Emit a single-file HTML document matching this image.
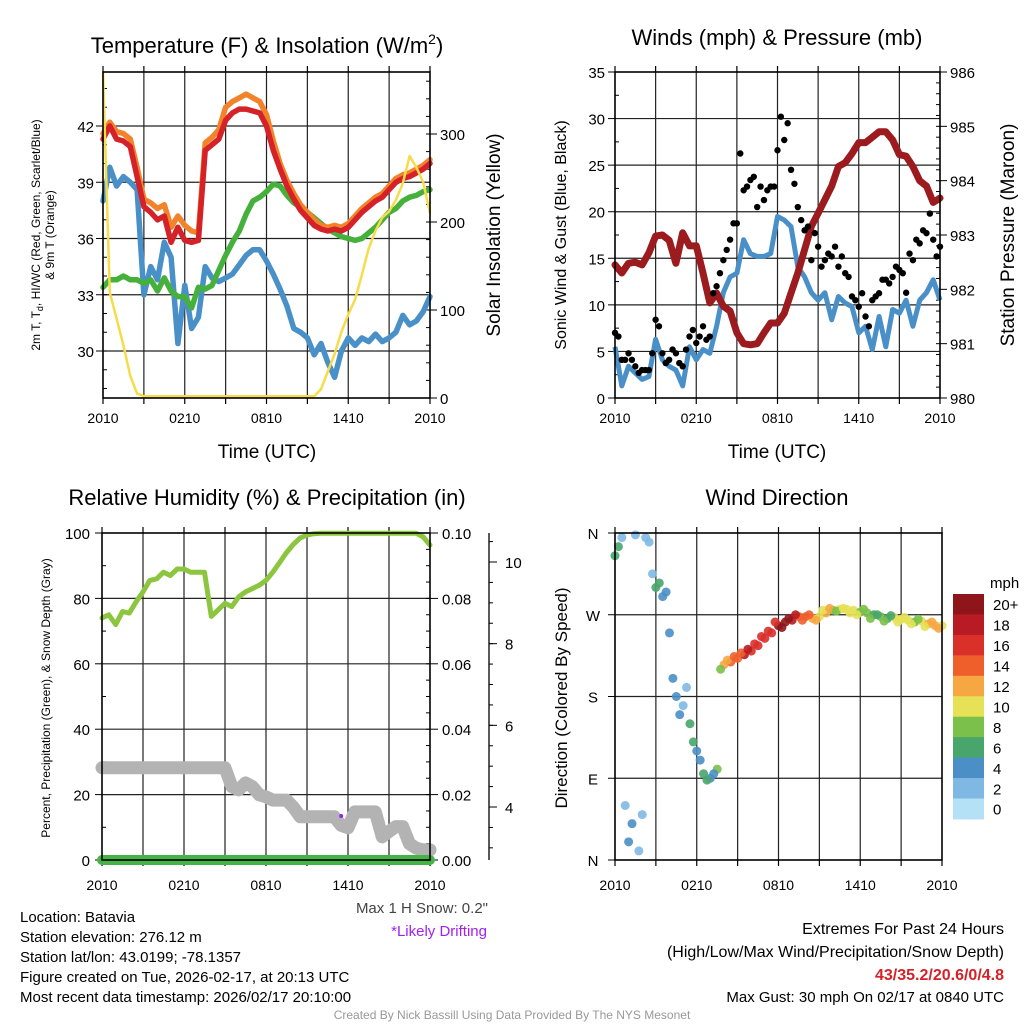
<!DOCTYPE html>
<html><head><meta charset="utf-8">
<style>
html,body{margin:0;padding:0;background:#fff;}
svg{display:block;font-family:"Liberation Sans",sans-serif;}
</style></head>
<body>
<svg id="chart" width="1024" height="1024" viewBox="0 0 1024 1024" xmlns="http://www.w3.org/2000/svg"></svg>
<script>
// ---------- data (0.5 h steps from 2010 UTC) ----------
const timeLabels = ["2010","0210","0810","1410","2010"];
const tempRed = [41.3,42.0,41.3,41.2,40.9,39.3,37.7,37.4,37.0,37.2,35.8,36.6,35.9,35.8,35.9,40.7,41.0,41.3,42.3,42.7,42.9,42.9,42.8,42.7,42.0,40.7,39.7,38.8,38.1,37.5,37.1,36.7,36.5,36.4,36.5,36.4,36.6,37.0,37.4,37.7,38.0,38.2,38.6,39.0,39.2,39.3,39.5,39.7,40.0];
const tempOrange = [41.6,42.2,41.7,41.6,41.3,39.8,38.1,37.9,37.6,37.8,36.6,37.2,36.7,36.4,36.3,41.1,41.4,41.8,43.0,43.3,43.5,43.7,43.5,43.3,42.6,41.2,40.0,39.1,38.4,37.8,37.4,37.0,36.7,36.6,36.7,36.6,36.8,37.2,37.6,37.9,38.2,38.4,38.8,39.2,39.4,39.5,39.7,39.9,40.2];
const dewGreen = [33.4,33.8,33.8,34.0,33.8,33.8,33.6,33.8,33.2,33.9,33.2,32.9,32.9,32.3,33.4,33.3,33.5,34.3,35.1,35.8,36.4,37.3,38.0,38.2,38.5,38.9,38.8,38.3,37.9,37.7,37.4,37.1,36.8,36.5,36.3,36.1,36.0,35.9,36.0,36.3,36.6,37.0,37.4,37.6,38.0,38.2,38.3,38.5,38.6];
const windChillBlue = [38.0,39.8,38.8,39.3,39.0,38.6,33.0,34.5,33.8,35.8,35.0,30.4,33.5,31.2,31.8,34.5,33.9,33.7,33.9,34.1,34.6,35.1,35.4,35.4,34.8,34.1,33.3,32.4,31.2,31.0,30.7,29.8,30.4,29.4,28.6,30.0,30.7,30.3,30.7,30.5,30.9,30.5,30.7,31.0,31.9,31.4,31.6,32.1,32.9];
const solar = [370,120,90,60,25,5,2,2,2,2,2,2,2,2,2,2,2,2,2,2,2,2,2,2,2,2,2,2,2,2,2,2,10,30,50,75,95,112,140,170,190,205,212,225,244,275,262,245,210];
const tempTicks = [30,33,36,39,42];
const solarTicks = [0,100,200,300];

const windSpeed = [5.5,1.3,3.4,2.7,2.0,2.3,6.3,4.1,3.4,3.0,1.3,5.5,4.1,5.2,4.8,7.7,11.3,13.0,13.4,17.0,15.5,15.2,15.2,15.5,19.5,19.1,18.4,14.1,13.0,11.3,10.5,11.3,8.4,10.9,10.2,9.8,7.0,7.7,5.2,8.75,5.5,9.5,9.1,10.5,7.7,10.5,11.3,12.7,10.5];
const gustA = [7.0,4.1,4.8,3.4,3.0,3.0,8.4,4.8,4.1,4.8,3.4,6.6,5.9,7.7,6.6,12.0,14.8,17.0,18.75,22.3,23.4,20.5,21.25,22.7,26.6,27.7,24.5,20.5,18.0,14.8,16.25,14.8,15.2,14.1,13.4,10.9,9.8,8.75,10.5,11.25,12.7,13.0,13.75,11.3,14.8,16.6,17.7,17.0,16.25];
const gustB = [6.6,4.1,4.1,2.7,3.0,4.8,7.7,3.75,5.2,3.75,5.2,7.3,6.6,6.25,11.25,13.4,15.9,18.75,26.25,22.7,23.75,22.7,22.3,22.7,30.2,29.5,23.0,19.1,18.4,17.7,14.1,15.5,16.25,15.2,13.0,10.5,11.25,7.7,10.9,12.7,12.3,14.1,13.4,15.5,17.0,18.0,19.8,15.2];
const pressure = [982.45,982.3,982.48,982.5,982.45,982.67,982.98,983.0,982.9,982.48,983.04,982.8,982.8,982.3,981.75,981.93,981.69,981.6,981.2,981.0,980.98,981.0,981.2,981.38,981.38,981.56,981.93,982.3,982.73,983.16,983.4,983.65,983.9,984.26,984.33,984.5,984.7,984.7,984.8,984.9,984.9,984.75,984.48,984.45,984.26,984.0,983.9,983.6,983.68];
const windTicks = [0,5,10,15,20,25,30,35];
const pressTicks = [980,981,982,983,984,985,986];

const rh = [74,75,72,76,75.5,79,82,85.5,86,88,87,89,89,88,88,88,74.5,76.5,78.5,77.5,80.5,82,83,84,85.5,88,91,94,96.5,98.5,99.4,99.8,99.9,99.9,99.9,99.9,99.9,99.9,99.9,99.9,99.9,99.9,99.9,99.9,99.9,99.9,99.9,98.8,96.3];
const precip = [0,0,0,0,0,0,0,0,0,0,0,0,0,0,0,0,0,0,0,0,0,0,0,0,0,0,0,0,0,0,0,0,0,0,0,0,0,0,0,0,0,0,0,0,0,0,0,0,0];
const snowDepth = [4.96,4.96,4.96,4.96,4.96,4.96,4.96,4.96,4.96,4.96,4.96,4.96,4.96,4.96,4.96,4.96,4.96,4.96,4.96,4.5,4.42,4.59,4.5,4.3,4.25,4.17,4.17,4.17,4.0,3.76,3.76,3.76,3.76,3.76,3.76,3.55,3.49,3.88,3.88,3.88,3.88,3.27,3.4,3.52,3.52,3.1,2.99,2.95,2.95];
const rhTicks = [0,20,40,60,80,100];
const precipTicks = ["0.00","0.02","0.04","0.06","0.08","0.10"];
const snowTicks = [4,6,8,10];
const driftTime = [17.5];
const driftSnow = [3.78];

const dirA = [335,355,20,358,50,350,300,290,250,180,170,150,120,95,90,100,215,218,222,226,230,236,244,250,258,262,264,268,268,266,268,272,275,276,276,275,273,272,270,268,266,267,265,264,262,263,260,258,258];
const dirB = [345,60,40,10,355,315,305,295,200,160,190,130,110,88,95,210,220,224,228,232,238,246,252,262,256,266,270,264,270,264,275,277,274,277,272,270,276,266,270,263,269,262,267,260,265,257,262,255];
const dirLabels = ["N","E","S","W","N"];
const speedBinLabels = ["0","2","4","6","8","10","12","14","16","18","20+"];
const speedBinColors = ["#b5e1f7","#7fb9e3","#4a8fc5","#48a56c","#7bc04a","#e6e157","#f6a742","#ef5f2b","#d9302a","#b81b24","#8e161b"];

// ---------- helpers ----------
const NS="http://www.w3.org/2000/svg";
const svg=document.getElementById('chart');
function mk(tag,attrs,parent){const e=document.createElementNS(NS,tag);for(const k in attrs)e.setAttribute(k,attrs[k]);(parent||svg).appendChild(e);return e;}
function txt(s,x,y,size,anchor,parent,extra){const e=mk('text',Object.assign({x:x,y:y,'font-size':size,'text-anchor':anchor||'middle',fill:'#000'},extra||{}),parent);e.textContent=s;return e;}
function lin(d0,d1,r0,r1){return v=>r0+(v-d0)*(r1-r0)/(d1-d0);}
function pathFrom(ts,vals,xs,ys){let d='';vals.forEach((v,i)=>{d+=(i?'L':'M')+xs(ts(i)).toFixed(1)+','+ys(v).toFixed(1);});return d;}
const tHalf=i=>i*0.5, tQuarter=i=>0.25+i*0.5;

function frame(g,L,R,T,B,xs,nameP,labOff){
  for(let h=3;h<24;h+=3){const l=mk('line',{x1:xs(h),x2:xs(h),y1:T,y2:B,stroke:'#222','stroke-width':1.2},g);
    }
  for(let h=0;h<=24;h+=3){mk('line',{x1:xs(h),x2:xs(h),y1:B,y2:B+6,stroke:'#000','stroke-width':1.2},g);mk('line',{x1:xs(h),x2:xs(h),y1:T,y2:T-6,stroke:'#000','stroke-width':1.2},g);}
  timeLabels.forEach((s,i)=>{const e=txt(s,xs(i*6),B+labOff,14,'middle',g);});
}
function box(g,L,R,T,B){const r=mk('rect',{x:L,y:T,width:R-L,height:B-T,fill:'none',stroke:'#000','stroke-width':1.6},g);}

// ---------- Panel 1 ----------
(function(){
  const L=103,R=430,T=72,B=398;
  const g=mk('g',{});
  const xs=lin(0,24,L,R), ys=lin(30,42,351,126), ys2=lin(0,300,398,134);
  frame(g,L,R,T,B,xs,'temp',25);
  tempTicks.forEach(v=>{const l=mk('line',{x1:L,x2:R,y1:ys(v),y2:ys(v),stroke:'#222','stroke-width':1.2},g);
    mk('line',{x1:L-7,x2:L,y1:ys(v),y2:ys(v),stroke:'#000'},g);
    const e=txt(String(v),L-9,ys(v)+6,15,'end',g);});
  for(let v=28;v<=45;v++){if(ys(v)>T&&ys(v)<B)mk('line',{x1:L,x2:L+4,y1:ys(v),y2:ys(v),stroke:'#000'},g);}
  for(let v=0;v<=380;v+=20){if(ys2(v)>=T&&ys2(v)<=B)mk('line',{x1:R,x2:R-4,y1:ys2(v),y2:ys2(v),stroke:'#000'},g);}
  solarTicks.forEach(v=>{mk('line',{x1:R,x2:R+7,y1:ys2(v),y2:ys2(v),stroke:'#000'},g);
    const e=txt(String(v),R+10,ys2(v)+6,15,'start',g);});
  const series=[[windChillBlue,'#4a90c8',5.5,'wind-chill-line'],[dewGreen,'#46b03c',5.5,'dewpoint-line'],[tempOrange,'#f3832a',5.5,'temp-9m-line'],[tempRed,'#d42228',5.5,'temp-2m-line']];
  series.forEach(s=>{const p=mk('path',{d:pathFrom(tHalf,s[0],xs,ys),fill:'none',stroke:s[1],'stroke-width':s[2],'stroke-linejoin':'round','stroke-linecap':'round'},g);
    });
  const sp=mk('path',{d:pathFrom(tHalf,solar,xs,ys2),fill:'none',stroke:'#f7dc4a','stroke-width':2.5,'stroke-linejoin':'round'},g);
  
  box(g,L,R,T,B);
  const t=txt('',267,53,22,'middle',g);t.innerHTML='Temperature (F) &amp; Insolation (W/m<tspan font-size="14" dy="-9">2</tspan><tspan dy="9">)</tspan>';
  
  const xt=txt('Time (UTC)',267,458,19,'middle',g);
  const y1=txt('',0,0,12,'middle',g,{transform:'translate(40,235) rotate(-90)'});
  y1.innerHTML='2m T, T<tspan font-size="9" dy="3">d</tspan><tspan dy="-3">, HI/WC (Red, Green, Scarlet/Blue)</tspan>';
  
  const y1b=txt('& 9m T (Orange)',0,0,12,'middle',g,{transform:'translate(54,235) rotate(-90)'});
  
  const y2=txt('Solar Insolation (Yellow)',0,0,19,'middle',g,{transform:'translate(500,235) rotate(-90)'});
  
})();

// ---------- Panel 2 ----------
(function(){
  const L=615,R=940,T=72,B=398;
  const g=mk('g',{});
  const xs=lin(0,24,L,R), ys=lin(0,35,B,T), ys2=lin(980,986,B,T);
  frame(g,L,R,T,B,xs,'wind',25);
  windTicks.forEach(v=>{if(v>0&&v<35){const l=mk('line',{x1:L,x2:R,y1:ys(v),y2:ys(v),stroke:'#222','stroke-width':1.2},g);}
    mk('line',{x1:L-7,x2:L,y1:ys(v),y2:ys(v),stroke:'#000'},g);
    const e=txt(String(v),L-10,ys(v)+6,15,'end',g);});
  for(let v=2.5;v<35;v+=5)mk('line',{x1:L,x2:L+4,y1:ys(v),y2:ys(v),stroke:'#000'},g);
  for(let v=980;v<=986;v+=0.2)mk('line',{x1:R,x2:R-4,y1:ys2(v),y2:ys2(v),stroke:'#000'},g);
  pressTicks.forEach(v=>{mk('line',{x1:R,x2:R+7,y1:ys2(v),y2:ys2(v),stroke:'#000'},g);
    const e=txt(String(v),R+10,ys2(v)+6,15,'start',g);});
  const wp=mk('path',{d:pathFrom(tHalf,windSpeed,xs,ys),fill:'none',stroke:'#4a90c8','stroke-width':5,'stroke-linejoin':'round'},g);
  
  const pp=mk('path',{d:pathFrom(tHalf,pressure,xs,ys2),fill:'none',stroke:'#9b1b1e','stroke-width':7,'stroke-linejoin':'round','stroke-linecap':'round'},g);
  
  gustA.forEach((v,i)=>{const c=mk('circle',{cx:xs(tHalf(i)),cy:ys(v),r:3.2,fill:'#000'},g);
    });
  gustB.forEach((v,i)=>{const c=mk('circle',{cx:xs(tQuarter(i)),cy:ys(v),r:3.2,fill:'#000'},g);
    });
  box(g,L,R,T,B);
  const t=txt('Winds (mph) & Pressure (mb)',777,45,22,'middle',g);
  const xt=txt('Time (UTC)',777,458,19,'middle',g);
  const y1=txt('Sonic Wind & Gust (Blue, Black)',0,0,16,'middle',g,{transform:'translate(566,235) rotate(-90)'});
  
  const y2=txt('Station Pressure (Maroon)',0,0,19,'middle',g,{transform:'translate(1014,235) rotate(-90)'});
  
})();

// ---------- Panel 3 ----------
(function(){
  const L=102,R=430,T=533,B=860;
  const g=mk('g',{});
  const xs=lin(0,24,L,R), ys=lin(0,100,B,T), ysP=lin(0,0.1,B,T), ysS=lin(4,10,807,562);
  frame(g,L,R,T,B,xs,'rh',30);
  rhTicks.forEach(v=>{if(v>0&&v<100){const l=mk('line',{x1:L,x2:R,y1:ys(v),y2:ys(v),stroke:'#222','stroke-width':1.2},g);}
    mk('line',{x1:L-7,x2:L,y1:ys(v),y2:ys(v),stroke:'#000'},g);
    const e=txt(String(v),L-12,ys(v)+6,15,'end',g);});
  for(let v=10;v<100;v+=20)mk('line',{x1:L,x2:L+4,y1:ys(v),y2:ys(v),stroke:'#000'},g);
  for(let v=0;v<=0.1;v+=0.005)mk('line',{x1:R,x2:R-4,y1:ysP(v),y2:ysP(v),stroke:'#000'},g);
  precipTicks.forEach(s=>{const v=parseFloat(s);mk('line',{x1:R,x2:R+8,y1:ysP(v),y2:ysP(v),stroke:'#000'},g);
    const e=txt(s,R+12,ysP(v)+6,15,'start',g);});
  const sa=mk('line',{x1:489,x2:489,y1:T,y2:B,stroke:'#000','stroke-width':1.3},g);
  for(let v=3;v<=10.5;v+=0.5)mk('line',{x1:489,x2:493,y1:ysS(v),y2:ysS(v),stroke:'#000'},g);
  snowTicks.forEach(v=>{mk('line',{x1:489,x2:497,y1:ysS(v),y2:ysS(v),stroke:'#000'},g);
    const e=txt(String(v),505,ysS(v)+6,15,'start',g);});
  const sp=mk('path',{d:pathFrom(tHalf,snowDepth,xs,ysS),fill:'none',stroke:'#b3b3b3','stroke-width':13,'stroke-linejoin':'round','stroke-linecap':'round'},g);
  
  const pr=mk('path',{d:pathFrom(tHalf,precip,xs,ysP),fill:'none',stroke:'#46b346','stroke-width':10,'stroke-linecap':'round'},g);
  
  const rp=mk('path',{d:pathFrom(tHalf,rh,xs,ys),fill:'none',stroke:'#8cc63f','stroke-width':5,'stroke-linejoin':'round','stroke-linecap':'round'},g);
  
  driftTime.forEach((t,i)=>{const c=mk('circle',{cx:xs(t),cy:ysS(driftSnow[i]),r:2,fill:'#a020f0'},g);
    });
  box(g,L,R,T,B);
  const t=txt('Relative Humidity (%) & Precipitation (in)',267,505,22,'middle',g);
  const y1=txt('Percent, Precipitation (Green), & Snow Depth (Gray)',0,0,12,'middle',g,{transform:'translate(50,698) rotate(-90)'});
  
  const s1=txt('Max 1 H Snow: 0.2"',488,913,15,'end',g,{fill:'#444'});
  const s2=txt('*Likely Drifting',487,936,15,'end',g,{fill:'#a020f0'});
})();

// ---------- Panel 4 ----------
(function(){
  const L=615,R=942,T=533,B=860;
  const g=mk('g',{});
  const xs=lin(0,24,L,R), ys=lin(0,360,B,T);
  frame(g,L,R,T,B,xs,'dir',30);
  dirLabels.forEach((s,i)=>{const v=i*90;if(v>0&&v<360){const l=mk('line',{x1:L,x2:R,y1:ys(v),y2:ys(v),stroke:'#222','stroke-width':1.2},g);}
    mk('line',{x1:L-7,x2:L,y1:ys(v),y2:ys(v),stroke:'#000'},g);
    const e=txt(s,L-22,ys(v)+6,15,'middle',g);});
  const col=s=>speedBinColors[Math.max(0,Math.min(10,Math.round(s/2)))];
  dirA.forEach((d,i)=>{const c=mk('circle',{cx:xs(tHalf(i)),cy:ys(d),r:4.5,fill:col(windSpeed[i]),opacity:0.9},g);
    });
  dirB.forEach((d,i)=>{const c=mk('circle',{cx:xs(tQuarter(i)),cy:ys(d),r:4.5,fill:col(windSpeed[Math.min(i,windSpeed.length-1)]),opacity:0.9},g);
    });
  box(g,L,R,T,B);
  const t=txt('Wind Direction',777,505,22,'middle',g);
  const y1=txt('Direction (Colored By Speed)',0,0,17,'middle',g,{transform:'translate(567,698) rotate(-90)'});
  
  const cb=mk('g',{},g);
  const top=594,bh=20.45;
  speedBinColors.slice().reverse().forEach((c,i)=>{const r=mk('rect',{x:953,y:top+i*bh,width:31,height:bh+0.5,fill:c},cb);
    });
  speedBinLabels.slice().reverse().forEach((s,i)=>{const e=txt(s,993,top+i*bh+bh/2+6,15,'start',cb);
    });
  const m=txt('mph',990,588,15,'start',cb);
})();

// ---------- footer text ----------
(function(){
  const g=mk('g',{});
  ["Location: Batavia","Station elevation: 276.12 m","Station lat/lon: 43.0199; -78.1357","Figure created on Tue, 2026-02-17, at 20:13 UTC","Most recent data timestamp: 2026/02/17 20:10:00"].forEach((s,i)=>{
    const e=txt(s,20,922+i*20,15,'start',g);});
  const g2=mk('g',{});
  const a=txt('Extremes For Past 24 Hours',1004,934,16,'end',g2);
  const b=txt('(High/Low/Max Wind/Precipitation/Snow Depth)',1004,957,16,'end',g2);
  const c=txt('43/35.2/20.6/0/4.8',1004,980,16,'end',g2,{fill:'#d42228','font-weight':'bold'});
  const d=txt('Max Gust: 30 mph On 02/17 at 0840 UTC',1004,1002,15,'end',g2);
  const f=txt('Created By Nick Bassill Using Data Provided By The NYS Mesonet',512,1019,12,'middle',null,{fill:'#999'});
  
})();
</script>
</body></html>
